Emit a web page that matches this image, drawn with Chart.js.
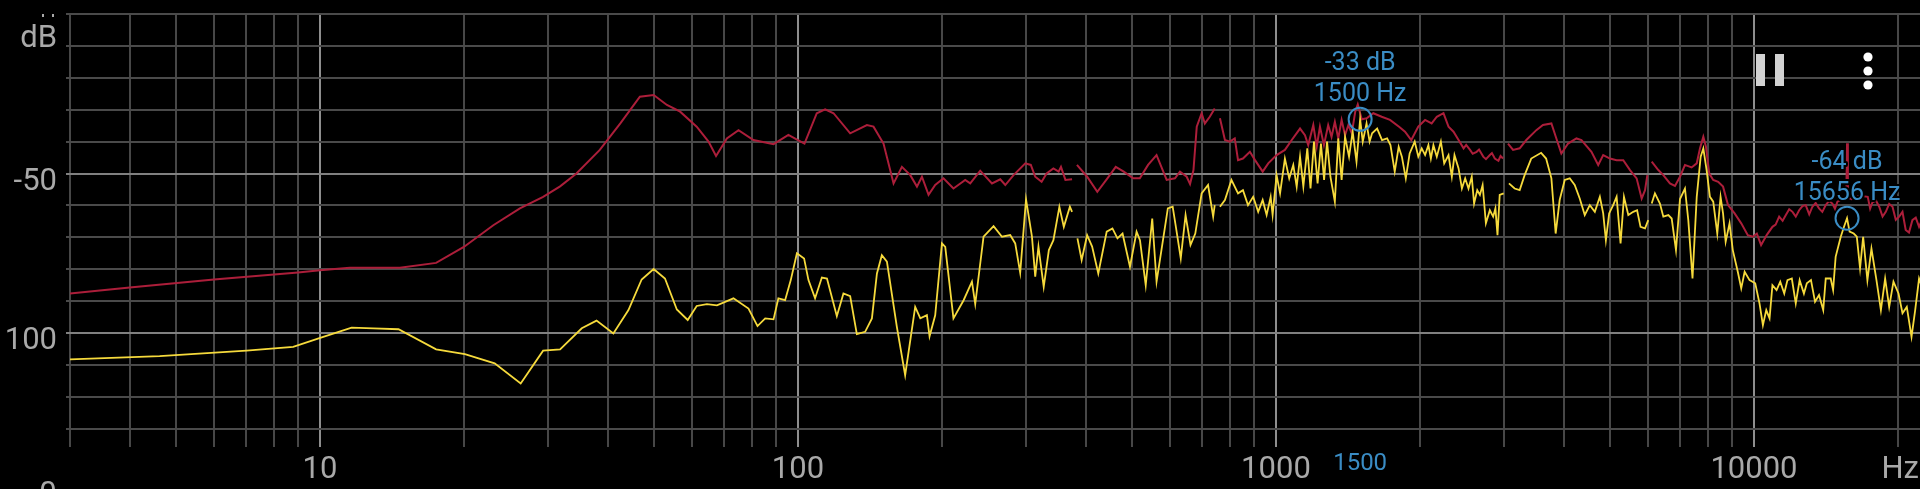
<!DOCTYPE html>
<html>
<head>
<meta charset="utf-8">
<script src="https://cdn.jsdelivr.net/npm/chart.js@4/dist/chart.umd.min.js"></script>
<style>
  html, body { margin: 0; padding: 0; background: #000; overflow: hidden; }
  canvas { display: block; }
</style>
</head>
<body>
<canvas id="spectrum" width="1920" height="489"></canvas>
<script>
// axis ranges
const xMinHz = 3;
const xMaxHz = 22250;
const yMinDb = -135.7;
const yMaxDb = 0;

// grid lines and tick labels
const xGridHz = [3, 4, 5, 6, 7, 8, 9, 10, 20, 30, 40, 50, 60, 70, 80, 90,
  100, 200, 300, 400, 500, 600, 700, 800, 900,
  1000, 2000, 3000, 4000, 5000, 6000, 7000, 8000, 9000, 10000, 20000];
const xTickValues = [10, 100, 1000, 10000];
const xTickLabels = ['10', '100', '1000', '10000'];
const yGridDb = [0, -10, -20, -30, -40, -50, -60, -70, -80, -90, -100, -110, -120, -130];
const yTickValues = [0, -50, -100];
const yTickLabels = ['dB', '-50', '100']; // the minus of -100 is cut off on screen

// peak markers
const peakHz = [1500, 15656];
const peakDb = [-33, -64];

// red trace (peak hold), null = gap between segments
const holdHz = [2.9, 4, 6, 9, 10, 11.55, 14.7, 17.5, 20, 23.05, 26.2, 29.3, 31.8, 34.4, 38.5, 42.5, 46.7, 49.9,
  53.2, 56.7, 61.4, 65, 67.4, 71, 75.1, 80.7, 88.9, 95.5, 100, 103.2, 109.5, 114, 118.7, 128.6, 139.4, 143.9,
  151, 158.5, 165, 171.8, 177.4, 181.7, 187.6, 193.7, 201.6, 211.5, 223.8, 229.3, 240.6, 254.6, 265, 271.5,
  282.5, 299, 307, 313.6, 323.4, 331.3, 342.3, 351, 355, 362.7, 374.5, 379,
  383.4, 402.7, 422.9, 444, 462.2, 480.3, 502.6, 519, 540.1, 562.6, 590.7, 614.7, 629.8, 650.5, 661.1, 672.1,
  682.8, 699, 710, 727, 744.5, 754,
  763.5, 782, 800.7, 820, 833, 853, 882, 904, 938, 963.5, 1003, 1044, 1079, 1123, 1150, 1168, 1197, 1217,
  1236, 1260, 1286, 1307, 1328, 1350, 1372, 1395, 1417, 1441, 1465, 1483, 1512, 1548, 1598, 1664, 1732, 1815,
  1862, 1919, 1985, 2051, 2117, 2170, 2241, 2296, 2352, 2410, 2469, 2500, 2547, 2580, 2629, 2660, 2714, 2750,
  2802, 2830, 2870, 2920, 2950, 2986, 3020,
  3058, 3133, 3235, 3340, 3505, 3619, 3769, 3860, 3954, 4084, 4252, 4356, 4571, 4722, 4837, 4997, 5160, 5328,
  5504, 5682, 5822, 5917, 5983, 6050,
  6110, 6308, 6462, 6672, 6835, 7002, 7172, 7404, 7590, 7711, 7835, 7935, 8063, 8218, 8416, 8616, 8825, 9110,
  9405, 9708, 9948, 10140, 10350, 10630, 10930, 11100, 11290, 11480, 11660, 11850, 12040, 12230, 12430, 12630,
  12830, 13050, 13250, 13460, 13680, 13900, 14130, 14360, 14590, 14770, 14950, 15300, 15600, 15656, 15720,
  16000, 16630, 17300, 17500, 17700, 18000, 18280, 18580, 18870, 19180, 19490, 19800, 20120, 20450, 20770,
  21100, 21450, 21800, 22150, 22400];
const holdDb = [-87.8, -85.7, -83.2, -81.0, -80.3, -79.5, -79.5, -78.0, -73, -66.2, -60.9, -57.3, -54.0, -50, -42.6, -34.3, -25.9, -25.4,
  -28.5, -30.6, -35.3, -40, -44.5, -39, -36.4, -39.5, -40.8, -37.9, -39.5, -40.6, -31.1, -29.9, -31.1, -37.4, -34.8, -35.3,
  -40.6, -53.1, -47.9, -50.5, -54.1, -51, -56.7, -53.6, -51.5, -54.7, -52, -53.1, -49.1, -53.1, -51.8, -53.6,
  -50.5, -46.8, -47.3, -51, -52.6, -50, -48.4, -49.4, -47.9, -52, -51.8, null,
  -47.3, -51, -55.7, -51.5, -47.9, -49.4, -51.5, -51.5, -47.3, -44.2, -52, -51.5, -49.4, -51, -53.3, -48.9,
  -35.3, -31.1, -34.3, -32.2, -29.6, null,
  -32.7, -39.5, -40, -39, -45.8, -45.3, -43.2, -45.8, -49.4, -46.8, -44.2, -42.6, -39.5, -35.9, -38, -41.1, -34.8, -41.6,
  -35.3, -41.1, -34.8, -38.5, -33.8, -39, -33.2, -38, -34.8, -37.4, -30.6, -28.3, -33, -32.7, -31.1, -32.2, -33.2, -35.5,
  -36.9, -39.5, -35.3, -33.2, -34.3, -32.2, -31.1, -35.3, -36.9, -39.5, -42.1, -41, -42.6, -43.8, -43.2, -42.5, -44.7, -45.5,
  -44.2, -43.6, -45.3, -46, -44.5, -45.3, null,
  -40.6, -42.6, -42.1, -39.5, -36.4, -34.8, -34.3, -39, -43.7, -40.6, -39, -39.5, -43.2, -47.3, -44.2, -45.3, -45.8, -45.8,
  -48.9, -51.5, -57.8, -55.2, -50.5, null,
  -46.3, -48.9, -50.5, -53.1, -53.9, -51, -47.3, -48.1, -46.8, -42.1, -38.5, -41.6, -50, -52, -52.6, -54.1, -59.9, -62.5,
  -65.6, -69.3, -69.8, -68.8, -72.4, -69.3, -66.7, -66, -63.5, -64.8, -63, -61.2, -62, -63.5, -61.5, -60.2,
  -59.9, -62.8, -60.4, -59.2, -60.9, -62, -59.9, -58.6, -59.4, -61, -58.8, -58, -57.5, -40.5, -57.5,
  -58, -57, -57.3, -61, -59, -58.5, -60.4, -63.5, -62, -59.5, -60.4, -64.5, -63.5, -62, -67.7,
  -68.5, -64.6, -63.8, -66.7, -65];

// yellow trace (live spectrum), null = gap between segments
const liveHz = [2.9, 4.62, 7.02, 8.79, 10.16, 11.65, 12.93, 14.6, 17.5, 20.1, 23.2, 26.3, 29.3, 31.8, 35.3, 37.9, 41.1,
  44.2, 47.1, 49.9, 52.7, 55.8, 58.8, 61.4, 64.5, 67.7, 73.3, 78.8, 82.3, 85.4, 88.9, 91, 94, 96.6, 99.5, 103,
  105.2, 108.6, 112.2, 115, 120.6, 124.5, 128.6, 132.8, 138.2, 142.8, 146.3, 149.8, 153.5, 161, 167.6, 175.9,
  180.3, 186.1, 188.5, 193.7, 200.1, 203.3, 211.5, 222.1, 231.2, 234.9, 244.5, 256.6, 267.2, 278, 284.8, 291.7,
  300, 308.7, 313.6, 318.5, 326.7, 334.9, 342.3, 352.3, 359.9, 370.6, 374.5, 379,
  384.3, 392.2, 402.7, 412.5, 424.9, 442.5, 454.9, 466, 477.6, 495, 511, 519.4, 534, 551, 562.6, 576, 594, 608,
  617.5, 632.2, 647, 662.5, 678, 699, 721, 739, 744.5, 754,
  763.5, 782, 807, 833, 853, 874, 896, 918, 938, 956, 974.8, 984, 1003, 1020, 1044, 1066, 1087, 1105, 1123,
  1141, 1163, 1181, 1201, 1222, 1242, 1261, 1279, 1300, 1328, 1350, 1372, 1395, 1422, 1447, 1474, 1500, 1519,
  1547, 1570, 1589, 1628, 1667, 1708, 1736, 1772, 1806, 1834, 1869, 1904, 1951, 1985, 2018, 2051, 2084, 2109,
  2135, 2170, 2213, 2249, 2296, 2333, 2363, 2410, 2449, 2488, 2528, 2568, 2597, 2637, 2671, 2706, 2749, 2802,
  2847, 2878, 2907, 2938, 2995, 3030,
  3072, 3157, 3235, 3313, 3420, 3587, 3674, 3769, 3847, 3922, 4019, 4117, 4217, 4320, 4426, 4535, 4646, 4760,
  4837, 4900, 4978, 5075, 5160, 5259, 5346, 5459, 5591, 5695, 5790, 5917, 6010, 6060,
  6110, 6206, 6357, 6462, 6620, 6728, 6868, 7002, 7172, 7288, 7437, 7590, 7736, 7835, 7960, 8089, 8218, 8380,
  8514, 8616, 8725, 8890, 9030, 9250, 9405, 9560, 9790, 10060, 10270, 10440, 10610, 10780, 10930, 11150, 11350,
  11570, 11750, 12000, 12230, 12460, 12720, 12900, 13160, 13420, 13680, 13960, 14130, 14470, 14640, 14820, 15190,
  15430, 15656, 15850, 16170, 16410, 16670, 16920, 17270, 17610, 18040, 18430, 18810, 19180, 19580, 20060, 20450,
  20880, 21360, 21740, 22150, 22400];
const liveDb = [-108.3, -107.2, -105.5, -104.3, -101.2, -98.3, -98.5, -98.8, -105.1, -106.6, -109.5, -115.8, -105.5, -105.1, -98.5, -96.1, -100.1,
  -92.8, -83.2, -79.9, -82.9, -92.6, -95.9, -91.5, -90.9, -91.3, -89.1, -92.3, -97.8, -95.4, -95.7, -89.1, -89.7, -83.4, -75, -76.6,
  -83.4, -89.1, -82.6, -82.9, -94.7, -87.6, -88.4, -100.3, -99.6, -95.4, -81.3, -75.6, -77.6, -98, -113.2, -91.8,
  -95.4, -94.4, -101, -94.4, -71.9, -73, -95.4, -89.7, -83.9, -90.9, -69.8, -66.5, -69.8, -69.3, -71.9, -81.1,
  -58.1, -69.8, -82.3, -72.9, -85.5, -74, -70.9, -60.4, -66.7, -60.4, -62, null,
  -70.3, -77.1, -69.3, -72.9, -81.3, -68.2, -67.2, -70.3, -68.8, -79.2, -68.2, -70.9, -85, -64.1, -83.9, -74, -60.9, -60.4,
  -66.7, -76.6, -63, -72.4, -68.8, -56.2, -53.6, -63.5, -59.9, null,
  -60.4, -58.3, -52, -56.2, -55.2, -59.9, -57.3, -62, -58.3, -63, -57.3, -63, -50.5, -56.2, -45.3, -51.5, -47.3, -54.1, -44.7,
  -54.1, -42.1, -54.7, -40, -53.1, -40.6, -52, -40, -51, -58.8, -39, -52, -38.5, -44.7, -36.9, -46.3, -33, -40,
  -34.3, -40, -37.4, -35.9, -39.5, -39, -41.1, -49.4, -41.6, -44.7, -51.5, -43.7, -40, -44.7, -42.1, -44.2, -41.1, -45.3,
  -41.1, -44.7, -40, -46.8, -44.2, -51, -44.2, -48.4, -54.7, -51.5, -54.7, -51, -59.4, -55.2, -56.7, -53.6, -65.6, -61.5,
  -63.5, -60.9, -69.3, -56.7, -56.2, null,
  -53.1, -54.7, -55.2, -50.5, -45.3, -43.5, -45.3, -51.5, -68.8, -58.3, -52, -51.5, -53.6, -57.8, -63, -59.9, -62, -57.3,
  -62.5, -70.9, -62.5, -59.9, -57.3, -71.9, -57.3, -63, -62, -61.5, -66.7, -67.2, -64.6, null,
  -59.4, -56.2, -59.4, -63.5, -63, -64.1, -74, -58, -54.7, -64.6, -82.9, -57.3, -44.7, -42.1, -48.9, -57.3, -58.8, -68.8,
  -57.3, -62.5, -71.4, -65.6, -74, -80.8, -86, -80.8, -83.4, -84.4, -90.7, -97.5, -92.8, -95.4, -85, -86.5, -83.9,
  -87.6, -83.4, -82.9, -90.7, -83.4, -87.6, -84.4, -83.4, -90.2, -88.1, -92.8, -82.9, -82.9, -86.5, -76.1, -69.8,
  -66.7, -64, -68.2, -68.8, -69.8, -79.7, -69.8, -83.4, -73.5, -83.4, -92.8, -82.9, -91.8, -83.9, -87.6, -93.8,
  -91.8, -101.2, -92.8, -82.9, -85];

const toPoints = (freqs, dbs) => freqs.map((f, i) => ({ x: f, y: dbs[i] }));

const labelGrey = '#a9a9a9';
const markerBlue = '#3a8cc4';
const labelFont = '31px Roboto';

// text with a black halo, like the app draws over the traces
const haloText = (ctx, text, x, y) => {
  ctx.strokeText(text, x, y);
  ctx.fillText(text, x, y);
};

// draws axis labels, peak markers and the pause/menu icons
const overlayPlugin = {
  id: 'overlay',
  afterDraw(chart) {
    const ctx = chart.ctx;
    const xs = chart.scales.x;
    const ys = chart.scales.y;
    ctx.save();

    ctx.fillStyle = labelGrey;
    ctx.font = labelFont;
    ctx.textAlign = 'right';
    ctx.textBaseline = 'alphabetic';
    yTickValues.forEach((v, i) => {
      const y = ys.getPixelForValue(v);
      ctx.fillText(yTickLabels[i], 57, v === yMaxDb ? y + 33 : y + 16);
    });
    // cut-off bits at the top and bottom of the label column
    ctx.fillRect(42, 14, 2, 3);
    ctx.fillRect(52, 14, 2, 3);
    ctx.textAlign = 'center';
    ctx.fillText('0', 48, 503);

    xTickValues.forEach((v, i) => {
      ctx.fillText(xTickLabels[i], xs.getPixelForValue(v), 478);
    });
    ctx.textAlign = 'right';
    ctx.fillText('Hz', 1919, 478);

    // peak markers
    ctx.strokeStyle = markerBlue;
    ctx.lineWidth = 2;
    peakHz.forEach((hz, i) => {
      ctx.beginPath();
      ctx.arc(xs.getPixelForValue(hz), ys.getPixelForValue(peakDb[i]), 11.5, 0, Math.PI * 2);
      ctx.stroke();
    });
    ctx.fillStyle = markerBlue;
    ctx.strokeStyle = '#000';
    ctx.lineWidth = 4;
    ctx.lineJoin = 'round';
    ctx.textAlign = 'center';
    ctx.font = '25px Roboto';
    peakHz.forEach((hz, i) => {
      const px = xs.getPixelForValue(hz);
      const py = ys.getPixelForValue(peakDb[i]);
      haloText(ctx, peakDb[i] + ' dB', px, py - 49);
      haloText(ctx, hz + ' Hz', px, py - 18);
    });
    ctx.font = '24px Roboto';
    ctx.fillText(String(peakHz[0]), xs.getPixelForValue(peakHz[0]), 470);

    // pause + menu icons
    ctx.fillStyle = '#d2d2d2';
    ctx.fillRect(1756, 54, 9, 32);
    ctx.fillRect(1775, 54, 9, 32);
    ctx.fillStyle = '#ffffff';
    [57, 71, 85].forEach(cy => {
      ctx.beginPath();
      ctx.arc(1868, cy, 4.6, 0, Math.PI * 2);
      ctx.fill();
    });
    ctx.restore();
  }
};

const data = {
  datasets: [{
    label: 'live',
    data: toPoints(liveHz, liveDb),
    borderColor: 'rgb(246, 218, 60)',
    borderWidth: 1.8,
    pointRadius: 0,
    spanGaps: false,
  }, {
    label: 'hold',
    data: toPoints(holdHz, holdDb),
    borderColor: 'rgb(172, 30, 58)',
    borderWidth: 2,
    pointRadius: 0,
    spanGaps: false,
  }]
};

const config = {
  type: 'line',
  data: data,
  options: {
    responsive: false,
    animation: false,
    events: [],
    layout: { padding: { left: 66, top: 14, right: 0, bottom: 42 } },
    plugins: { legend: { display: false }, tooltip: { enabled: false } },
    scales: {
      x: {
        type: 'logarithmic',
        min: xMinHz,
        max: xMaxHz,
        afterBuildTicks: scale => { scale.ticks = xGridHz.map(v => ({ value: v })); },
        ticks: { display: false },
        border: { display: false },
        grid: {
          drawTicks: false,
          lineWidth: 2,
          color: c => xTickValues.includes(c.tick.value) ? '#8e8e8e' : '#474747'
        }
      },
      y: {
        type: 'linear',
        min: yMinDb,
        max: yMaxDb,
        afterBuildTicks: scale => { scale.ticks = yGridDb.map(v => ({ value: v })); },
        ticks: { display: false },
        border: { display: false },
        grid: {
          drawTicks: true,
          tickLength: 4,
          lineWidth: 2,
          color: c => (c.tick.value === -50 || c.tick.value === -100) ? '#808080' : '#4a4a4a'
        }
      }
    }
  },
  plugins: [overlayPlugin]
};

const chart = new Chart(document.getElementById('spectrum').getContext('2d'), config);
</script>
</body>
</html>
